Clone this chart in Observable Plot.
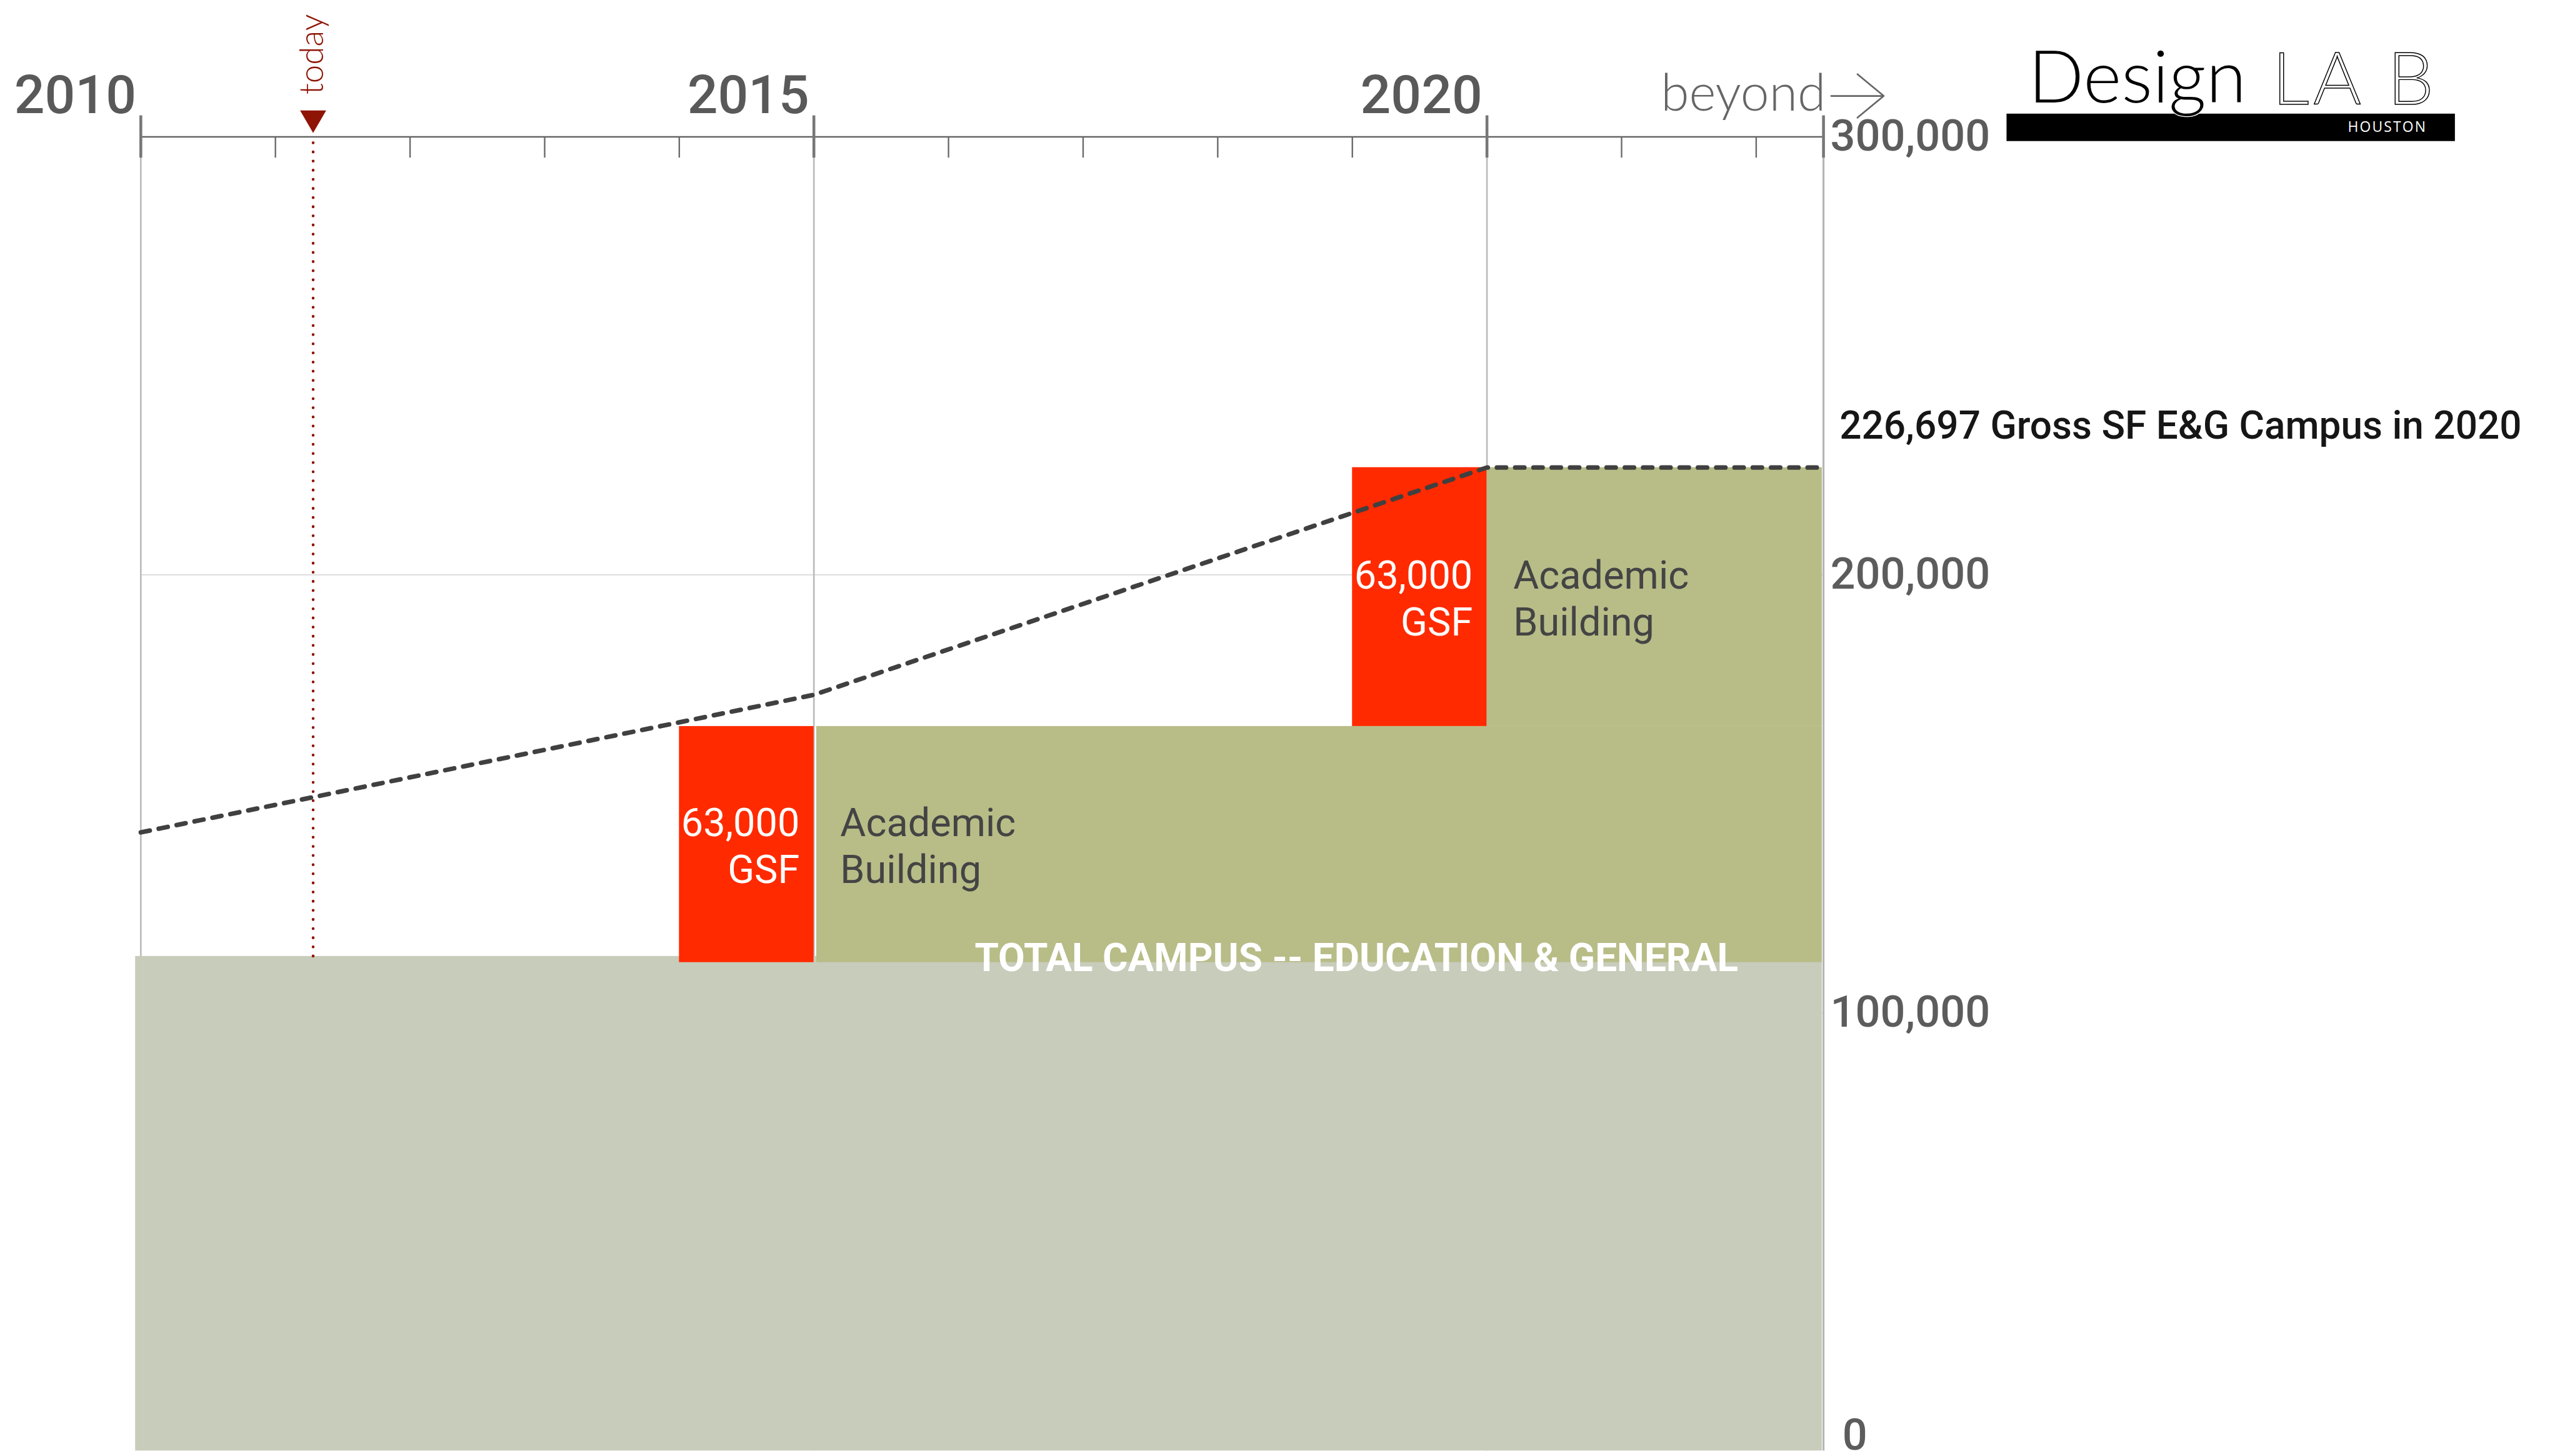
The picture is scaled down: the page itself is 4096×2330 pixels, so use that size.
<!DOCTYPE html>
<html>
<head>
<meta charset="utf-8">
<script src="https://cdn.jsdelivr.net/npm/d3@7"></script>
<script src="https://cdn.jsdelivr.net/npm/@observablehq/plot@0.6"></script>
<style>
  html, body { margin: 0; padding: 0; background: #fff; overflow: hidden; }
  #chart { width: 4096px; height: 2330px; }
</style>
</head>
<body>
<div id="chart"></div>
<script>
// ---------- data ----------
const axisYears = [2010, 2011, 2012, 2013, 2014, 2015, 2016, 2017, 2018, 2019, 2020, 2021, 2022];
const labelYears = [2010, 2015, 2020];
const labelYearText = ["2010", "2015", "2020"];
const horizonEnd = 2022.5;
const gsfTicks = [100000, 200000, 300000];
const gsfTickText = ["100,000", "200,000", "300,000"];
const zeroTickText = ["0"];

const blockKind  = ["base", "new", "existing", "new", "existing"];
const blockStart = [2009.96, 2014, 2015.02, 2019, 2020];
const blockEnd   = [2022.49, 2015, 2022.49, 2020, 2022.49];
const blockLow   = [0, 111500, 111500, 165400, 165400];
const blockHigh  = [112900, 165400, 165400, 224500, 224500];

const trendYear = [2010, 2015, 2020, 2022.5];
const trendGSF  = [141200, 172600, 224500, 224500];

const todayYear = 2011.28;

const buildingYear    = [2015, 2020];
const buildingLow     = [111500, 165400];
const buildingHigh    = [165400, 224500];
const buildingGSFText = ["63,000\nGSF", "63,000\nGSF"];
const buildingName    = ["Academic\nBuilding", "Academic\nBuilding"];

const totalLabel = "TOTAL CAMPUS -- EDUCATION & GENERAL";
const totalLabelYear = 2019.03;
const totalLabelGSF = 112400;
const campusNote = "226,697 Gross SF E&G Campus in 2020";
const campusNoteGSF = 224500;

// ---------- tables ----------
const blocks = blockKind.map((k, i) => ({kind: k, x1: blockStart[i], x2: blockEnd[i], y1: blockLow[i], y2: blockHigh[i]}));
const trend = trendYear.map((t, i) => ({year: t, gsf: trendGSF[i]}));
const buildings = buildingYear.map((t, i) => ({year: t, mid: (buildingLow[i] + buildingHigh[i]) / 2, gsf: buildingGSFText[i], name: buildingName[i]}));
const minorYears = axisYears.filter(y => !labelYears.includes(y));
const majorTicks = [...labelYears, horizonEnd];
const yLabels = gsfTicks.map((v, i) => ({v, t: gsfTickText[i]}));

// ---------- layout ----------
const S = 4096 / 4482;
const W = 4096, H = 2330;
const FONT = "Roboto, 'Noto Sans', sans-serif";

const plot = Plot.plot({
  width: W,
  height: H,
  marginLeft: 246 * S,
  marginRight: W - 3192 * S,
  marginTop: 239 * S,
  marginBottom: H - 2540 * S,
  x: {domain: [2010, horizonEnd], axis: null},
  y: {domain: [0, 300000], axis: null},
  color: {domain: ["base", "new", "existing"], range: ["#c8ccbb", "#ff2a00", "#b8bc87"]},
  style: {fontFamily: FONT, background: "#fff", overflow: "visible"},
  marks: [
    // gridlines
    Plot.ruleY([100000, 200000], {x1: 2010, x2: horizonEnd, stroke: "#d9d9d9", strokeWidth: 2 * S}),
    Plot.ruleX(labelYears, {y1: 0, y2: 300000, stroke: "#bdbdbd", strokeWidth: 3 * S}),
    // blocks
    Plot.rect(blocks, {x1: "x1", x2: "x2", y1: "y1", y2: "y2", fill: "kind"}),
    Plot.ruleX([horizonEnd], {y1: 0, y2: 300000, stroke: "#b5b5b5", strokeWidth: 3.5 * S}),
    // today marker
    Plot.ruleX([todayYear], {y1: blockHigh[0], y2: 300000, stroke: "#8e1405", strokeWidth: 5 * S,
      strokeDasharray: `0 ${16 * S}`, strokeLinecap: "round"}),
    // trend
    Plot.line(trend, {x: "year", y: "gsf", stroke: "#404040", strokeWidth: 8 * S,
      strokeDasharray: `${16 * S} ${16 * S}`}),
    // top time axis
    Plot.ruleY([300000], {x1: 2010, x2: horizonEnd, stroke: "#666", strokeWidth: 2.8 * S}),
    Plot.ruleX(minorYears, {y1: 300000, y2: 300000, insetBottom: -37 * S, stroke: "#6a6a6a", strokeWidth: 2.6 * S}),
    Plot.ruleX(majorTicks, {y1: 300000, y2: 300000, insetTop: -37 * S, insetBottom: -37 * S, stroke: "#777", strokeWidth: 5 * S}),
    Plot.text(labelYears, {x: d => d, y: 300000, text: (d, i) => labelYearText[i], textAnchor: "end",
      lineAnchor: "bottom", dx: -8 * S, dy: -42 * S, fontSize: 94 * S, fontWeight: 500, fill: "#595959"}),
    Plot.dot([todayYear], {x: d => d, y: 300000, symbol: "triangle", r: 15.5, rotate: 180,
      fill: "#8e1405", stroke: "none", dy: -33 * S}),
    Plot.text([todayYear], {x: d => d, y: 300000, text: () => "today", rotate: -90, textAnchor: "start",
      lineAnchor: "bottom", dx: 17 * S, dy: -74 * S, fontSize: 58 * S, fontWeight: 300,
      fontFamily: "Lato, 'Open Sans', sans-serif", fill: "#8e1405"}),
    Plot.text([horizonEnd], {x: d => d, y: 300000, text: () => "beyond", textAnchor: "end",
      lineAnchor: "bottom", dx: 4 * S, dy: -46 * S, fontSize: 90 * S, fontWeight: 300,
      fontFamily: "Lato, 'Open Sans', sans-serif", fill: "#666"}),
    // value axis labels
    Plot.text(yLabels, {x: horizonEnd, y: "v", text: "t", textAnchor: "start", lineAnchor: "middle",
      dx: 12 * S, fontSize: 77 * S, fontWeight: 500, fill: "#5c5c5c"}),
    Plot.text(zeroTickText, {x: horizonEnd, y: 0, text: d => d, textAnchor: "start", lineAnchor: "middle",
      dx: 33 * S, dy: -27 * S, fontSize: 77 * S, fontWeight: 500, fill: "#5c5c5c"}),
    // block labels
    Plot.text(buildings, {x: "year", y: "mid", text: "gsf", textAnchor: "end", lineAnchor: "middle",
      lineHeight: 1.19, dx: -25 * S, fontSize: 69 * S, fill: "#fff"}),
    Plot.text(buildings, {x: "year", y: "mid", text: "name", textAnchor: "start", lineAnchor: "middle",
      lineHeight: 1.19, dx: 46 * S, fontSize: 69 * S, fill: "#444"}),
    Plot.text([totalLabel], {x: totalLabelYear, y: totalLabelGSF, text: d => d, textAnchor: "middle",
      lineAnchor: "middle", fontSize: 68 * S, fontWeight: 700, fill: "#fff"}),
    Plot.text([campusNote], {x: horizonEnd, y: campusNoteGSF, text: d => d, textAnchor: "start",
      lineAnchor: "bottom", dx: 28 * S, dy: -50 * S, fontSize: 68 * S, fontWeight: 500, fill: "#161616"})
  ]
});

document.getElementById("chart").appendChild(plot);

// ---------- decorations: arrow after "beyond" and logo ----------
const svg = d3.select(plot);
const deco = svg.append("g");
deco.append("path")
  .attr("d", `M${3206 * S},${168 * S}H${3298 * S}M${3252 * S},${130 * S}L${3298 * S},${168 * S}L${3252 * S},${206 * S}`)
  .attr("fill", "none").attr("stroke", "#666").attr("stroke-width", 3 * S)
  .attr("stroke-linecap", "round").attr("stroke-linejoin", "round");

const logo = svg.append("g")
  .attr("font-family", "Lato, 'Open Sans', sans-serif")
  .attr("text-anchor", "start");
logo.append("rect")
  .attr("x", 3513 * S).attr("y", 199 * S)
  .attr("width", (4298 - 3513) * S).attr("height", 48 * S).attr("fill", "#000");
logo.append("text")
  .attr("x", 3551 * S).attr("y", 180 * S)
  .attr("text-anchor", "start")
  .attr("font-size", 128 * S).attr("font-weight", 300)
  .attr("fill", "#000").attr("stroke", "#fff").attr("stroke-width", 3 * S)
  .attr("paint-order", "stroke")
  .text("Design");
[["L", 3978], ["A", 4050], ["B", 4180]].forEach(([ch, x]) => {
  logo.append("text")
    .attr("x", x * S).attr("y", 183 * S)
    .attr("text-anchor", "start")
    .attr("font-size", 128 * S).attr("font-weight", 300)
    .attr("fill", "#fff").attr("stroke", "#000").attr("stroke-width", 1.6 * S)
    .text(ch);
});
logo.append("text")
  .attr("x", 4249 * S).attr("y", 231 * S)
  .attr("text-anchor", "end")
  .attr("font-family", "'Open Sans', Lato, sans-serif")
  .attr("font-size", 25 * S).attr("letter-spacing", 2.4 * S)
  .attr("fill", "#fff")
  .text("HOUSTON");
</script>
</body>
</html>
